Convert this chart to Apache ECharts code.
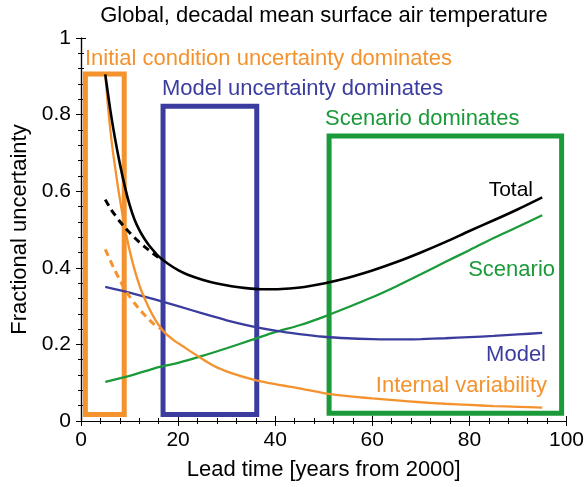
<!DOCTYPE html>
<html>
<head>
<meta charset="utf-8">
<script src="https://cdn.jsdelivr.net/npm/echarts@6/dist/echarts.min.js"></script>
<style>
html,body{margin:0;padding:0;background:#fff;}
#c{width:587px;height:487px;}
</style>
</head>
<body>
<div id="c"></div>
<script>
// ---- data ----
var xTicks = [0, 20, 40, 60, 80, 100];
var yTicks = [0, 0.2, 0.4, 0.6, 0.8, 1];

var totalX = [5,6,7,8,9,10,11,12,13,14,16,18,20,22,25,28,31,34,37,40,43,46,50,55,60,65,70,75,80,85,90,95];
var totalY = [0.905,0.815,0.738,0.672,0.614,0.565,0.527,0.499,0.477,0.459,0.43,0.41,0.394,0.382,0.369,0.359,0.352,0.347,0.344,0.344,0.346,0.35,0.359,0.374,0.393,0.415,0.44,0.467,0.496,0.524,0.553,0.584];

var totalDashX = [5,6,7,8,9,10,11,12,13,14,15,16.5];
var totalDashY = [0.578,0.556,0.538,0.521,0.506,0.492,0.479,0.467,0.456,0.446,0.436,0.422];

var internalX = [5,5.5,6,6.5,7,7.5,8,8.7,9.5,10.5,11.5,12.5,14,15.5,17,19,21,24,27.5,31,35.5,40,45,50,55,60,65,70,75,80,85,90,95];
var internalY = [0.905,0.83,0.765,0.71,0.665,0.62,0.58,0.528,0.475,0.42,0.375,0.338,0.295,0.26,0.234,0.212,0.195,0.17,0.143,0.125,0.108,0.096,0.085,0.073,0.065,0.059,0.054,0.049,0.045,0.042,0.039,0.037,0.035];

var internalDashX = [5,6,7,8,9,10,11,12,13,14,15,16.5];
var internalDashY = [0.448,0.42,0.393,0.368,0.345,0.325,0.308,0.292,0.278,0.265,0.253,0.24];

var modelX = [5,10,15,20,25,30,35,40,45,50,55,60,65,70,75,80,85,90,95];
var modelY = [0.35,0.335,0.318,0.3,0.281,0.263,0.248,0.236,0.227,0.22,0.216,0.214,0.213,0.214,0.216,0.219,0.222,0.226,0.23];

var scenarioX = [5,10,15,20,25,30,35,40,45,50,55,60,65,70,75,80,85,90,95];
var scenarioY = [0.102,0.118,0.137,0.152,0.17,0.19,0.211,0.232,0.25,0.272,0.297,0.323,0.352,0.383,0.415,0.446,0.478,0.507,0.537];

// dominance boxes (data units)
var boxNames = ['initial', 'model', 'scenario'];
var boxX0 = [0.9, 16.9, 51.1];
var boxX1 = [8.9, 36.2, 99];
var boxY0 = [0.017, 0.017, 0.02];
var boxY1 = [0.906, 0.822, 0.744];

var titleText = 'Global, decadal mean surface air temperature';
var xName = 'Lead time [years from 2000]';
var yName = 'Fractional uncertainty';
var labelTexts = ['Initial condition uncertainty dominates', 'Model uncertainty dominates', 'Scenario dominates', 'Total', 'Scenario', 'Model', 'Internal variability'];

// ---- styles ----
var FONT = '"Liberation Sans", Arial, Helvetica, sans-serif';
var ORANGE = '#F4922E';
var BLUE = '#3B3D9E';
var GREEN = '#1B9A3A';
var BLACK = '#000000';
var boxColors = [ORANGE, BLUE, GREEN];

function zip(xs, ys) { return xs.map(function (x, i) { return [x, ys[i]]; }); }

function lineSeries(xs, ys, color, width, dash) {
  return {
    type: 'line', data: zip(xs, ys), showSymbol: false, symbol: 'none',
    smooth: 0.25, z: 3,
    lineStyle: { color: color, width: width, type: dash || 'solid', cap: 'butt' },
    silent: true, animation: false
  };
}

var chart = echarts.init(document.getElementById('c'), null, { renderer: 'canvas' });

var axisCommon = {
  min: 0, splitLine: { show: false },
  axisLine: { show: true, lineStyle: { color: '#000', width: 1.2 } },
  axisTick: { show: true, inside: false, length: 5, lineStyle: { color: '#000', width: 1 } },
  minorTick: { show: true, splitNumber: 5, length: 3, lineStyle: { color: '#000', width: 1 } }
};

var boxSeries = {
  type: 'line', data: [], z: 5, silent: true, animation: false,
  markArea: {
    silent: true,
    data: boxX0.map(function (x0, i) {
      return [
        { xAxis: x0, yAxis: boxY0[i], itemStyle: { color: 'rgba(0,0,0,0)', borderColor: boxColors[i], borderWidth: 5 } },
        { xAxis: boxX1[i], yAxis: boxY1[i] }
      ];
    })
  }
};

var option = {
  animation: false,
  backgroundColor: '#fff',
  grid: { left: 81, right: 18, top: 38, bottom: 66, containLabel: false },
  xAxis: [
    Object.assign({}, axisCommon, {
      type: 'value', max: 100, interval: 20, position: 'bottom',
      axisLabel: { show: true, margin: 9, color: '#000', fontSize: 21, fontFamily: FONT,
        formatter: function (v) { return xTicks.indexOf(v) >= 0 ? String(v) : ''; } },
      name: xName, nameLocation: 'middle', nameGap: 38,
      nameTextStyle: { color: '#000', fontSize: 22, fontFamily: FONT }
    }),
    Object.assign({}, axisCommon, {
      type: 'value', max: 100, interval: 20, position: 'top', axisLabel: { show: false }
    })
  ],
  yAxis: [
    Object.assign({}, axisCommon, {
      type: 'value', max: 1, interval: 0.2, position: 'left',
      axisLabel: { show: true, margin: 10, color: '#000', fontSize: 21, fontFamily: FONT,
        formatter: function (v) {
          var r = Math.round(v * 10) / 10;
          return yTicks.indexOf(r) >= 0 ? (r === 0 ? '0' : r === 1 ? '1' : String(r)) : '';
        } },
      name: yName, nameLocation: 'middle', nameGap: 50,
      nameTextStyle: { color: '#000', fontSize: 22, fontFamily: FONT }
    }),
    Object.assign({}, axisCommon, {
      type: 'value', max: 1, interval: 0.2, position: 'right', axisLabel: { show: false }
    })
  ],
  series: [
    lineSeries(scenarioX, scenarioY, GREEN, 2.3),
    lineSeries(modelX, modelY, BLUE, 2.3),
    lineSeries(internalX, internalY, ORANGE, 2.3),
    lineSeries(internalDashX, internalDashY, ORANGE, 3, [7, 5]),
    lineSeries(totalDashX, totalDashY, BLACK, 3, [7, 5]),
    lineSeries(totalX, totalY, BLACK, 2.6),
    boxSeries
  ],
  graphic: [
    { type: 'text', x: 324, y: 16, style: { text: titleText, fill: '#000', font: '22px ' + FONT, textAlign: 'center', textVerticalAlign: 'middle' } },
    { type: 'text', x: 85, y: 59, style: { text: labelTexts[0], fill: ORANGE, font: '22px ' + FONT, textAlign: 'left', textVerticalAlign: 'middle' } },
    { type: 'text', x: 162, y: 89, style: { text: labelTexts[1], fill: BLUE, font: '22px ' + FONT, textAlign: 'left', textVerticalAlign: 'middle' } },
    { type: 'text', x: 325, y: 119, style: { text: labelTexts[2], fill: GREEN, font: '22px ' + FONT, textAlign: 'left', textVerticalAlign: 'middle' } },
    { type: 'text', x: 533, y: 190, style: { text: labelTexts[3], fill: '#000', font: '21px ' + FONT, textAlign: 'right', textVerticalAlign: 'middle' } },
    { type: 'text', x: 555, y: 270, style: { text: labelTexts[4], fill: GREEN, font: '22px ' + FONT, textAlign: 'right', textVerticalAlign: 'middle' } },
    { type: 'text', x: 546, y: 355, style: { text: labelTexts[5], fill: BLUE, font: '22px ' + FONT, textAlign: 'right', textVerticalAlign: 'middle' } },
    { type: 'text', x: 547, y: 386, style: { text: labelTexts[6], fill: ORANGE, font: '22px ' + FONT, textAlign: 'right', textVerticalAlign: 'middle' } }
  ]
};
chart.setOption(option);
</script>
</body>
</html>
